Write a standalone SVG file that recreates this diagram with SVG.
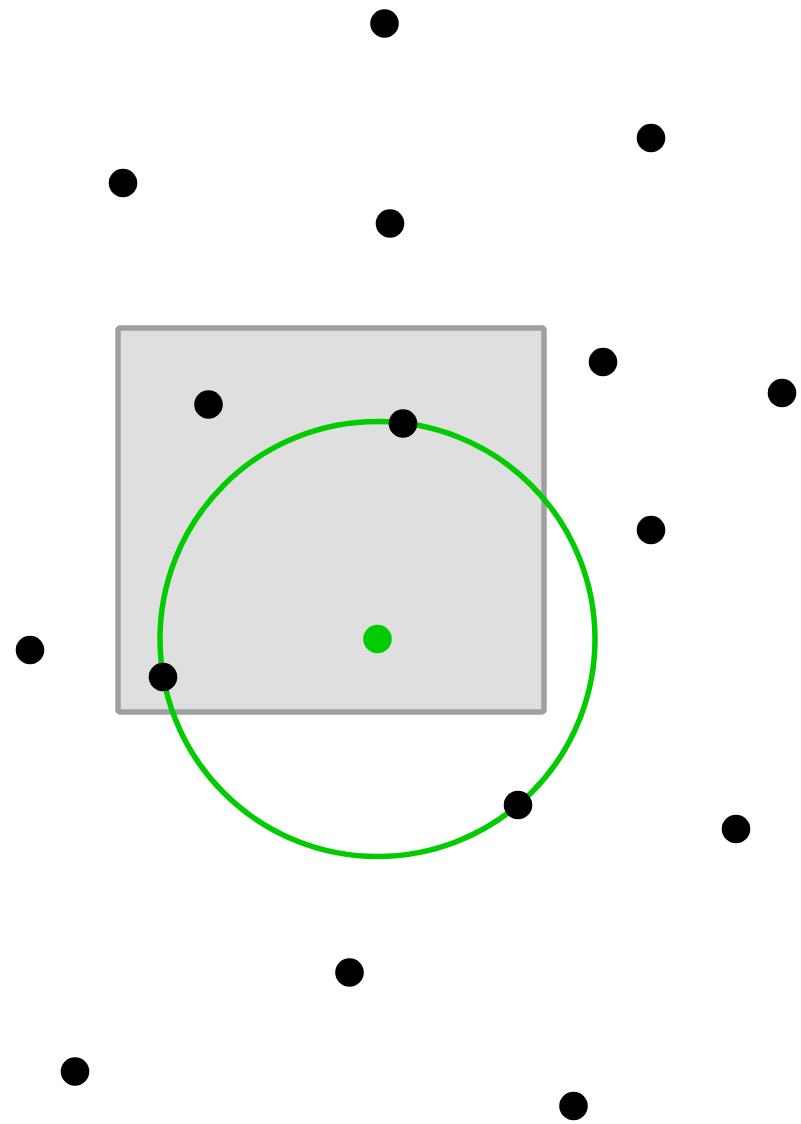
<svg xmlns="http://www.w3.org/2000/svg" width="801" height="1124" viewBox="0 0 801 1124">
<style>
.pt{fill:#000}
</style>
<rect width="801" height="1124" fill="#fff"/>
<rect x="118" y="328" width="426" height="384" rx="2" fill="#dfdfdf" stroke="#a0a0a0" stroke-width="5.5"/>
<circle cx="377.5" cy="639" r="217.5" fill="none" stroke="#00cc00" stroke-width="5.5"/>
<circle cx="377.5" cy="639" r="14.3" fill="#00cc00"/>
<g>
<circle class="pt" cx="384.5" cy="23.5" r="14.3"/>
<circle class="pt" cx="651" cy="138" r="14.3"/>
<circle class="pt" cx="123" cy="183" r="14.3"/>
<circle class="pt" cx="390" cy="223.5" r="14.3"/>
<circle class="pt" cx="603" cy="362" r="14.3"/>
<circle class="pt" cx="782" cy="393" r="14.3"/>
<circle class="pt" cx="208.5" cy="404.5" r="14.3"/>
<circle class="pt" cx="403" cy="423.5" r="14.3"/>
<circle class="pt" cx="651" cy="530" r="14.3"/>
<circle class="pt" cx="30" cy="650" r="14.3"/>
<circle class="pt" cx="163" cy="677" r="14.3"/>
<circle class="pt" cx="518" cy="805" r="14.3"/>
<circle class="pt" cx="736" cy="829" r="14.3"/>
<circle class="pt" cx="349.5" cy="972.5" r="14.3"/>
<circle class="pt" cx="75" cy="1071.5" r="14.3"/>
<circle class="pt" cx="573.5" cy="1106" r="14.3"/>
</g>
</svg>
